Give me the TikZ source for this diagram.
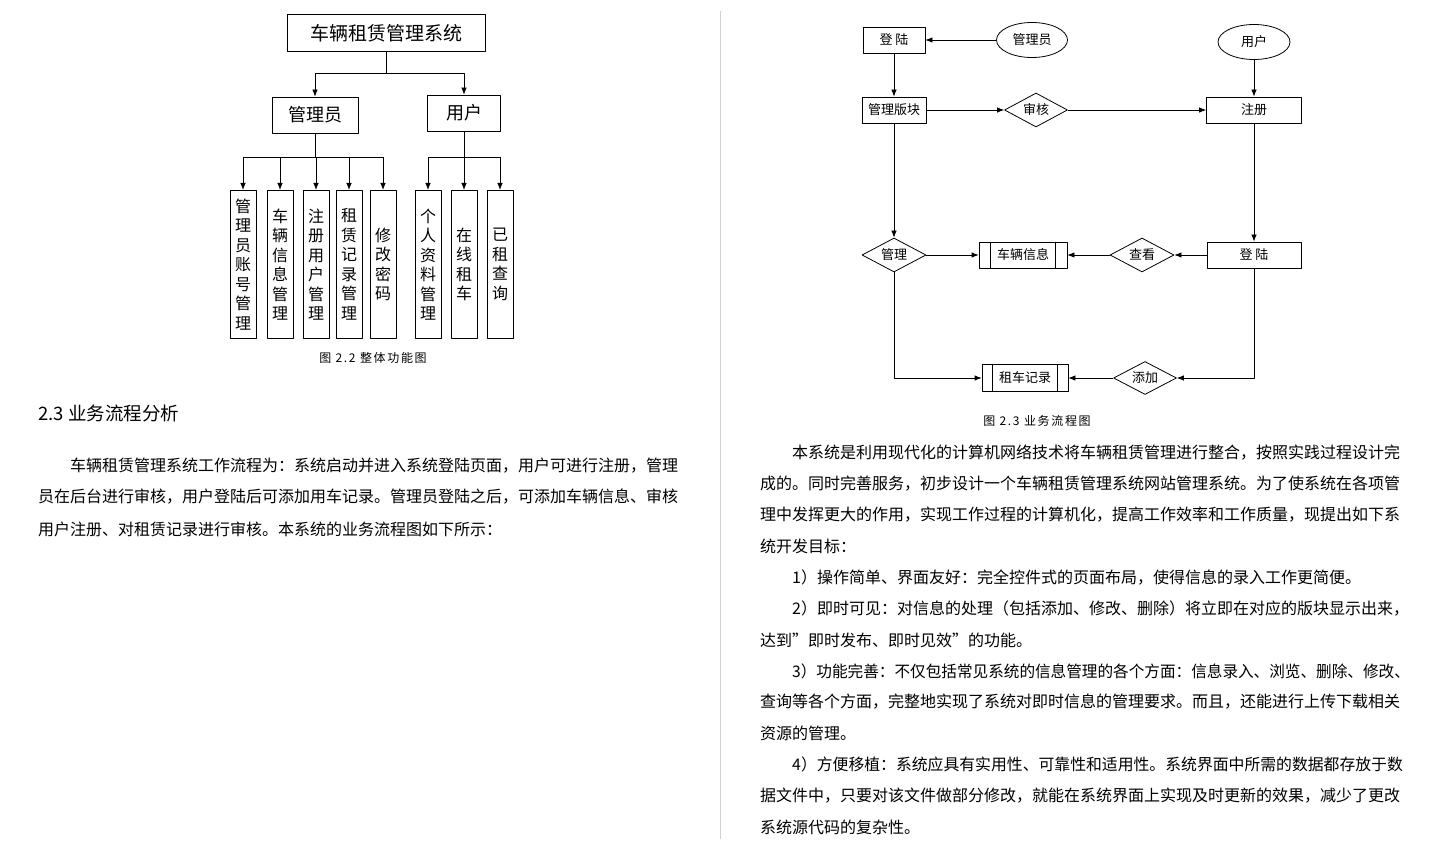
\documentclass[tikz,border=0pt]{standalone}
\usepackage{fontspec}
\setmainfont{Noto Sans CJK SC}
\usetikzlibrary{shapes.geometric,arrows.meta}
\begin{document}
\begin{tikzpicture}[x=1pt,y=-1pt, line join=round, >={Latex[length=7pt,width=5.5pt]},
	ln/.style={line width=0.8pt},
	box/.style={draw, line width=0.8pt, inner sep=0pt, font=\fontsize{13}{13}\selectfont},
	bigbox/.style={box, font=\fontsize{18}{18}\selectfont},
	leaf/.style={draw, line width=0.8pt, anchor=north, minimum width=26pt, minimum height=148pt, inner sep=0pt, align=center, font=\fontsize{16}{19.5}\selectfont},
	dec/.style={diamond, aspect=2, draw, line width=0.8pt, inner sep=0pt, minimum width=64pt, minimum height=34pt, font=\fontsize{13}{13}\selectfont},
	ell/.style={ellipse, draw, line width=0.8pt, inner sep=0pt, minimum width=71pt, minimum height=35pt, font=\fontsize{13}{13}\selectfont},
	txt/.style={anchor=west, inner sep=0pt, font=\fontsize{16}{16}\selectfont},
	figcap/.style={inner sep=0pt, font=\fontsize{12}{12}\selectfont\addfontfeature{LetterSpace=14}}]
	\useasboundingbox (0,0) rectangle (1443,850);
	\fill[white] (0,0) rectangle (1443,850);
	\draw[black!18, line width=1pt] (720,11) -- (720,839);

	% 整体功能图
	\node[bigbox, minimum width=198pt, minimum height=37pt, font=\fontsize{19}{19}\selectfont] (sys) at (386,33) {车辆租赁管理系统};
	\node[bigbox, minimum width=86pt, minimum height=36pt] (adm) at (315,115) {管理员};
	\node[bigbox, minimum width=73pt, minimum height=36pt] (usr) at (464,113) {用户};
	\draw[ln,->] (sys.south) -- (386,73) -| (adm.north);
	\draw[ln,->] (sys.south) -- (386,73) -| (usr.north);
	\foreach \n/\x/\t in {a1/243/{管\\理\\员\\账\\号\\管\\理}, a2/280/{车\\辆\\信\\息\\管\\理}, a3/316/{注\\册\\用\\户\\管\\理}, a4/349/{租\\赁\\记\\录\\管\\理}, a5/383/{修\\改\\密\\码}}{
		\node[leaf] (\n) at (\x,190) {\t};
		\draw[ln,->] (\x,157) -- (\n.north);
	}
	\foreach \n/\x/\t in {u1/428/{个\\人\\资\\料\\管\\理}, u2/464/{在\\线\\租\\车}, u3/500/{已\\租\\查\\询}}{
		\node[leaf] (\n) at (\x,190) {\t};
		\draw[ln,->] (\x,157) -- (\n.north);
	}
	\draw[ln] (adm.south) -- (315,157) (243,157) -- (383,157);
	\draw[ln] (usr.south) -- (464,157) (428,157) -- (500,157);
	\node[figcap] (cap1) at (373,358) {图 2.2 整体功能图};

	% 业务流程图
	\node[box, minimum width=62pt, minimum height=26pt] (login1) at (894,40) {登 陆};
	\node[ell] (admE) at (1032,40) {管理员};
	\node[ell, minimum width=72pt] (usrE) at (1254,42) {用户};
	\node[box, minimum width=64pt, minimum height=26pt] (mgr) at (894,110) {管理版块};
	\node[dec, minimum width=63pt] (audit) at (1036,110) {审核};
	\node[box, minimum width=95pt, minimum height=26pt] (reg) at (1254,110) {注册};
	\node[dec] (manage) at (894,255) {管理};
	\node[box, minimum width=88pt, minimum height=26pt] (car) at (1023,255) {车辆信息};
	\node[dec] (view) at (1142,255) {查看};
	\node[box, minimum width=94pt, minimum height=26pt] (login2) at (1254,255) {登 陆};
	\node[box, minimum width=86pt, minimum height=27pt] (rec) at (1025,378) {租车记录};
	\node[dec, minimum width=63pt, minimum height=33pt] (add) at (1145,378) {添加};
	\draw[ln] ([xshift=12pt]car.north west) -- ([xshift=12pt]car.south west) ([xshift=-12pt]car.north east) -- ([xshift=-12pt]car.south east);
	\draw[ln] ([xshift=11pt]rec.north west) -- ([xshift=11pt]rec.south west) ([xshift=-11pt]rec.north east) -- ([xshift=-11pt]rec.south east);

	\draw[ln,->] (admE.west) -- (login1.east);
	\draw[ln,->] (login1.south) -- (mgr.north);
	\draw[ln,->] (usrE.south) -- (reg.north);
	\draw[ln,->] (mgr.east) -- (audit.west);
	\draw[ln,->] (audit.east) -- (reg.west);
	\draw[ln,->] (mgr.south) -- (manage.north);
	\draw[ln,->] (manage.east) -- (car.west);
	\draw[ln,->] (reg.south) -- (login2.north);
	\draw[ln,->] (login2.west) -- (view.east);
	\draw[ln,->] (view.west) -- (car.east);
	\draw[ln,->] (manage.south) |- (rec.west);
	\draw[ln,->] (login2.south) |- (add.east);
	\draw[ln,->] (add.west) -- (rec.east);
	\node[figcap] (cap2) at (1037,421) {图 2.3 业务流程图};

	% 正文
	\node[txt, font=\fontsize{18.5}{18.5}\selectfont] (head) at (38,413) {2.3 业务流程分析};
	\node[txt] (l1) at (70,466) {车辆租赁管理系统工作流程为：系统启动并进入系统登陆页面，用户可进行注册，管理};
	\node[txt] (l2) at (38,497) {员在后台进行审核，用户登陆后可添加用车记录。管理员登陆之后，可添加车辆信息、审核};
	\node[txt] (l3) at (38,529) {用户注册、对租赁记录进行审核。本系统的业务流程图如下所示：};

	\node[txt] (r1) at (792,453) {本系统是利用现代化的计算机网络技术将车辆租赁管理进行整合，按照实践过程设计完};
	\node[txt] (r2) at (760,484) {成的。同时完善服务，初步设计一个车辆租赁管理系统网站管理系统。为了使系统在各项管};
	\node[txt] (r3) at (760,515) {理中发挥更大的作用，实现工作过程的计算机化，提高工作效率和工作质量，现提出如下系};
	\node[txt] (r4) at (760,546) {统开发目标：};
	\node[txt] (r5) at (792,578) {1）操作简单、界面友好：完全控件式的页面布局，使得信息的录入工作更简便。};
	\node[txt] (r6) at (792,609) {2）即时可见：对信息的处理（包括添加、修改、删除）将立即在对应的版块显示出来，};
	\node[txt] (r7) at (760,640) {达到”即时发布、即时见效”的功能。};
	\node[txt] (r8) at (792,671) {\scalebox{0.976}[1]{3）功能完善：不仅包括常见系统的信息管理的各个方面：信息录入、浏览、删除、修改、}};
	\node[txt] (r9) at (760,702) {查询等各个方面，完整地实现了系统对即时信息的管理要求。而且，还能进行上传下载相关};
	\node[txt] (r10) at (760,733) {资源的管理。};
	\node[txt] (r11) at (792,764) {\scalebox{0.99}[1]{4）方便移植：系统应具有实用性、可靠性和适用性。系统界面中所需的数据都存放于数}};
	\node[txt] (r12) at (760,796) {据文件中，只要对该文件做部分修改，就能在系统界面上实现及时更新的效果，减少了更改};
	\node[txt] (r13) at (760,827) {系统源代码的复杂性。};
\end{tikzpicture}
\end{document}
